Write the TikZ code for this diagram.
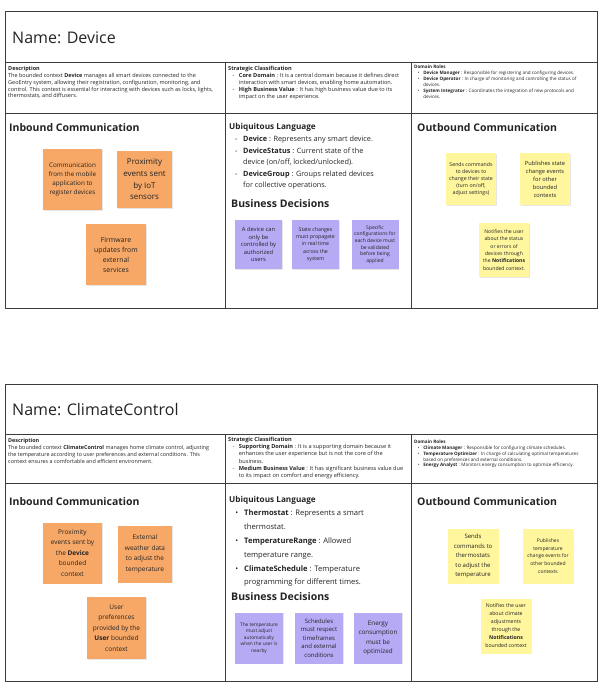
\documentclass[tikz,border=0pt]{standalone}
\usepackage{fontspec}
\setmainfont{Open Sans}
\usetikzlibrary{positioning,shadows}

\definecolor{lineclr}{RGB}{60,60,60}
\definecolor{txtclr}{RGB}{35,35,35}
\definecolor{orangenote}{RGB}{247,168,102}
\definecolor{purplenote}{RGB}{182,170,245}
\definecolor{yellownote}{RGB}{255,246,158}

\newcommand{\dashitem}{\hspace*{0.8em}-\hspace{0.8em}}
\newcommand{\dashcont}{\hspace*{0.8em}\hphantom{-}\hspace{0.8em}}
\newcommand{\dotitem}{\hspace*{0.8em}\textbullet\hspace{0.8em}}
\newcommand{\dotcont}{\hspace*{0.8em}\hphantom{\textbullet}\hspace{0.8em}}
\newcommand{\fs}[2]{\fontsize{#1}{#2}\selectfont}

\begin{document}
\begin{tikzpicture}[x=1pt,y=-1pt,
    frame/.style={draw=lineclr,line width=1pt},
    ctxname/.style={anchor=west,inner sep=0,text=txtclr,font=\fs{16}{19}},
    heading/.style={anchor=west,inner sep=0,text=txtclr,font=\bfseries\fs{10.5}{12}},
    subhead/.style={anchor=west,inner sep=0,text=txtclr,font=\bfseries\fs{8.2}{10}},
    cell/.style={anchor=north west,inner sep=0,align=left,text=txtclr},
    note/.style={inner sep=1pt,align=center,text=txtclr,
      drop shadow={opacity=0.2,shadow xshift=0.6pt,shadow yshift=-0.8pt}},
    inb/.style={note,fill=orangenote},
    dec/.style={note,fill=purplenote},
    outb/.style={note,fill=yellownote}
    ]

    \useasboundingbox (0,0) rectangle (602,688);

    % Device canvas
    \draw [frame] (5,11) rectangle (597,308);
    \draw [frame] (5,62) -- (597,62);
    \draw [frame] (5,113) -- (597,113);
    \draw [frame] (225,62) -- (225,308);
    \draw [frame] (411,62) -- (411,308);

    \node [ctxname] (devname) at (12,38) {Name: Device};

    \node [cell,font=\fs{5.5}{6.9}] (devdesc) at (8,66) {\textbf{Description}\\
      The bounded context \textbf{Device} manages all smart devices connected to the\\
      GeoEntry system, allowing their registration, configuration, monitoring, and\\
      control. This context is essential for interacting with devices such as locks, lights,\\
      thermostats, and diffusers.};
    \node [cell,font=\fs{5.6}{7}] (devstrat) at (228,66) {\textbf{Strategic Classification}\\
      \dashitem\textbf{Core Domain} : It is a central domain because it defines direct\\
      \dashcont interaction with smart devices, enabling home automation.\\
      \dashitem\textbf{High Business Value} : It has high business value due to its\\
      \dashcont impact on the user experience.};
    \node [cell,font=\fs{4.6}{5.9}] (devroles) at (414,65) {\textbf{Domain Roles}\\
      \dotitem\textbf{Device Manager} : Responsible for registering and configuring devices.\\
      \dotitem\textbf{Device Operator} : In charge of monitoring and controlling the status of\\
      \dotcont devices.\\
      \dotitem\textbf{System Integrator} : Coordinates the integration of new protocols and\\
      \dotcont devices.};

    \node [heading] (devin) at (9,128) {Inbound Communication};
    \node [inb,minimum width=59pt,minimum height=61pt,font=\fs{6.3}{9}] (devin1) at (72.5,179.5)
      {Communication\\from the mobile\\application to\\register devices};
    \node [inb,minimum width=55pt,minimum height=57pt,font=\fs{8}{11.6}] (devin2) at (144.5,179.5)
      {Proximity\\events sent\\by IoT\\sensors};
    \node [inb,minimum width=60pt,minimum height=61pt,font=\fs{6.9}{10}] (devin3) at (116,254.5)
      {Firmware\\updates from\\external\\services};

    \node [subhead] (devul) at (229,127) {Ubiquitous Language};
    \node [cell,font=\fs{7.3}{11.5}] (devterms) at (229,136) {%
      \dashitem\textbf{Device} : Represents any smart device.\\
      \dashitem\textbf{DeviceStatus} : Current state of the\\
      \dashcont device (on/off, locked/unlocked).\\
      \dashitem\textbf{DeviceGroup} : Groups related devices\\
      \dashcont for collective operations.};
    \node [heading] (devbd) at (231,204) {Business Decisions};
    \node [dec,minimum width=47pt,minimum height=49pt,font=\fs{5.8}{7.6}] (devbd1) at (258.5,244.5)
      {A device can\\only be\\controlled by\\authorized\\users};
    \node [dec,minimum width=47pt,minimum height=49pt,font=\fs{5.2}{7.4}] (devbd2) at (315.5,244.5)
      {State changes\\must propagate\\in real time\\across the\\system};
    \node [dec,minimum width=47pt,minimum height=49pt,font=\fs{5}{6.7}] (devbd3) at (375,244.5)
      {Specific\\configurations for\\each device must\\be validated\\before being\\applied};

    \node [heading] (devout) at (417,128) {Outbound Communication};
    \node [outb,minimum width=50pt,minimum height=52pt,font=\fs{5.2}{7.1}] (devout1) at (471,179)
      {Sends commands\\to devices to\\change their state\\(turn on/off,\\adjust settings)};
    \node [outb,minimum width=50pt,minimum height=52pt,font=\fs{5.7}{8}] (devout2) at (545,179)
      {Publishes state\\change events\\for other\\bounded\\contexts};
    \node [outb,minimum width=50pt,minimum height=54pt,font=\fs{5.1}{7.3}] (devout3) at (504,250)
      {Notifies the user\\about the status\\or errors of\\devices through\\the \textbf{Notifications}\\bounded context.};

    % ClimateControl canvas
    \draw [frame] (5,384) rectangle (597,681);
    \draw [frame] (5,434) -- (597,434);
    \draw [frame] (5,483) -- (597,483);
    \draw [frame] (225,434) -- (225,681);
    \draw [frame] (411,434) -- (411,681);

    \node [ctxname] (ccname) at (12,410) {Name: ClimateControl};

    \node [cell,font=\fs{5.4}{6.9}] (ccdesc) at (8,438) {\textbf{Description}\\
      The bounded context \textbf{ClimateControl} manages home climate control, adjusting\\
      the temperature according to user preferences and external conditions. This\\
      context ensures a comfortable and efficient environment.};
    \node [cell,font=\fs{5.6}{7.2}] (ccstrat) at (228,437) {\textbf{Strategic Classification}\\
      \dashitem\textbf{Supporting Domain} : It is a supporting domain because it\\
      \dashcont enhances the user experience but is not the core of the\\
      \dashcont business.\\
      \dashitem\textbf{Medium Business Value} : It has significant business value due\\
      \dashcont to its impact on comfort and energy efficiency.};
    \node [cell,font=\fs{4.6}{5.8}] (ccroles) at (414,440) {\textbf{Domain Roles}\\
      \dotitem\textbf{Climate Manager} : Responsible for configuring climate schedules.\\
      \dotitem\textbf{Temperature Optimizer} : In charge of calculating optimal temperatures\\
      \dotcont based on preferences and external conditions.\\
      \dotitem\textbf{Energy Analyst} : Monitors energy consumption to optimize efficiency.};

    \node [heading] (ccin) at (9,502) {Inbound Communication};
    \node [inb,minimum width=59pt,minimum height=61pt,font=\fs{6.5}{10.5}] (ccin1) at (72.5,553)
      {Proximity\\events sent by\\the \textbf{Device}\\bounded\\context};
    \node [inb,minimum width=54pt,minimum height=57pt,font=\fs{6.5}{10.5}] (ccin2) at (145,554)
      {External\\weather data\\to adjust the\\temperature};
    \node [inb,minimum width=59pt,minimum height=62pt,font=\fs{6.5}{10.5}] (ccin3) at (116.5,628)
      {User\\preferences\\provided by the\\\textbf{User} bounded\\context};

    \node [subhead] (ccul) at (229,500) {Ubiquitous Language};
    \node [cell,font=\fs{7.6}{13.8}] (ccterms) at (229,510) {%
      \dotitem\textbf{Thermostat} : Represents a smart\\
      \dotcont thermostat.\\
      \dotitem\textbf{TemperatureRange} : Allowed\\
      \dotcont temperature range.\\
      \dotitem\textbf{ClimateSchedule} : Temperature\\
      \dotcont programming for different times.};
    \node [heading] (ccbd) at (231,597) {Business Decisions};
    \node [dec,minimum width=48pt,minimum height=51pt,font=\fs{4.8}{6.6}] (ccbd1) at (259,638)
      {The temperature\\must adjust\\automatically\\when the user is\\nearby};
    \node [dec,minimum width=48pt,minimum height=51pt,font=\fs{6}{8.4}] (ccbd2) at (319,638)
      {Schedules\\must respect\\timeframes\\and external\\conditions};
    \node [dec,minimum width=48pt,minimum height=51pt,font=\fs{6.3}{9.5}] (ccbd3) at (378,638)
      {Energy\\consumption\\must be\\optimized};

    \node [heading] (ccout) at (417,502) {Outbound Communication};
    \node [outb,minimum width=51pt,minimum height=55pt,font=\fs{6}{9.5}] (ccout1) at (473,556)
      {Sends\\commands to\\thermostats\\to adjust the\\temperature};
    \node [outb,minimum width=51pt,minimum height=55pt,font=\fs{5}{7.6}] (ccout2) at (548,556)
      {Publishes\\temperature\\change events for\\other bounded\\contexts};
    \node [outb,minimum width=51pt,minimum height=55pt,font=\fs{5.2}{8}] (ccout3) at (506,626)
      {Notifies the user\\about climate\\adjustments\\through the\\\textbf{Notifications}\\bounded context};
\end{tikzpicture}
\end{document}
